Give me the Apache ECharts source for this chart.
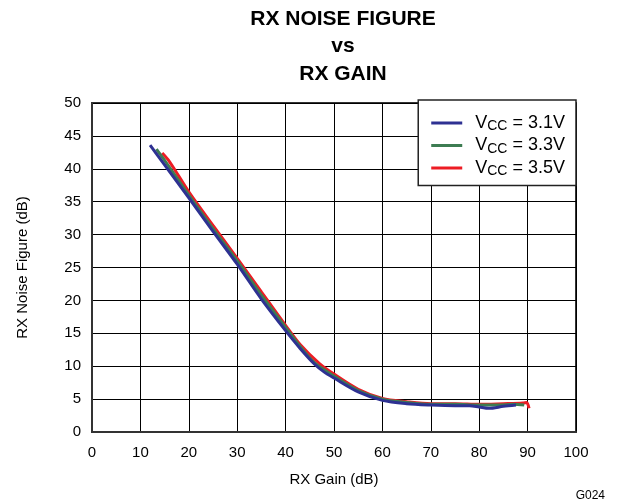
<!DOCTYPE html>
<html>
<head>
<meta charset="utf-8">
<script src="https://cdn.jsdelivr.net/npm/echarts@6/dist/echarts.min.js"></script>
<style>
html, body { margin: 0; padding: 0; background: #fff; }
#chart { width: 617px; height: 504px; }
</style>
</head>
<body>
<div id="chart"></div>
<script>
// values
var xTicks = [0, 10, 20, 30, 40, 50, 60, 70, 80, 90, 100];
var yTicks = [0, 5, 10, 15, 20, 25, 30, 35, 40, 45, 50];

var gain31 = [12, 15, 20, 25, 30, 35, 40, 43, 46, 48, 50, 55, 60, 65, 70, 75, 78, 80, 82, 85, 87.6];
var nf31   = [43.6, 40.6, 35.6, 30.5, 25.5, 20.2, 15.4, 12.7, 10.3, 9.1, 8.2, 6.1, 4.8, 4.3, 4.1, 4.0, 4.0, 3.8, 3.6, 3.9, 4.1];

var gain33 = [13.3, 15, 20, 25, 30, 35, 40, 43, 46, 50, 55, 60, 65, 70, 75, 80, 84, 87, 89.3];
var nf33   = [43.0, 41.3, 36.0, 30.9, 26.0, 20.8, 15.9, 13.0, 10.5, 8.5, 6.3, 5.0, 4.5, 4.2, 4.2, 4.1, 4.1, 4.2, 4.1];

var gain35 = [14.5, 16, 20, 25, 30, 35, 40, 43, 47, 50, 55, 60, 65, 70, 75, 80, 85, 89, 89.8, 90.3];
var nf35   = [42.4, 41.1, 36.5, 31.4, 26.4, 21.3, 16.2, 13.3, 10.4, 8.8, 6.5, 5.1, 4.6, 4.3, 4.3, 4.2, 4.3, 4.4, 4.5, 3.6];

var names = ['VCC = 3.1V', 'VCC = 3.3V', 'VCC = 3.5V'];
var colors = ['#2e3192', '#3d7c52', '#ed1c24'];

function pairs(xs, ys) {
	return xs.map(function (x, i) { return [x, ys[i]]; });
}

var font = 'Liberation Sans, Arial, Helvetica, sans-serif';
var chart = echarts.init(document.getElementById('chart'));

function lineSeries(idx, data, z) {
	return {
		name: names[idx],
		type: 'line',
		data: data,
		smooth: 0.3,
		showSymbol: false,
		z: z,
		lineStyle: { color: colors[idx], width: 3 },
		itemStyle: { color: colors[idx] }
	};
}

chart.setOption({
	animation: false,
	backgroundColor: '#fff',
	title: {
		text: 'RX NOISE FIGURE\nvs\nRX GAIN',
		left: 338,
		top: 0,
		textAlign: 'center',
		textStyle: { fontFamily: font, fontSize: 21, fontWeight: 'bold', color: '#000', lineHeight: 27.5 }
	},
	legend: {
		data: names,
		orient: 'vertical',
		right: 41,
		top: 100,
		backgroundColor: '#fff',
		borderColor: '#222',
		borderWidth: 1.5,
		padding: [14, 11, 7, 13],
		itemGap: 3,
		itemWidth: 31,
		itemHeight: 3,
		icon: 'rect',
		formatter: function (name) {
			return '{v|V}{s|CC}{v|' + name.substring(3) + '}';
		},
		textStyle: {
			fontFamily: font,
			color: '#000',
			padding: [0, 0, 0, 8],
			rich: {
				v: { fontFamily: font, fontSize: 18, color: '#000', lineHeight: 19 },
				s: { fontFamily: font, fontSize: 14, color: '#000', padding: [7, 0, 0, 0] }
			}
		}
	},
	grid: {
		left: 92,
		right: 41,
		top: 103,
		bottom: 72,
		show: true,
		borderColor: '#333',
		borderWidth: 2
	},
	xAxis: {
		type: 'value',
		min: xTicks[0],
		max: xTicks[xTicks.length - 1],
		interval: 10,
		name: 'RX Gain (dB)',
		nameLocation: 'middle',
		nameGap: 40,
		nameTextStyle: { fontFamily: font, fontSize: 15, color: '#000' },
		axisLine: { show: true, lineStyle: { color: '#333', width: 2 } },
		axisTick: { show: false },
		axisLabel: { fontFamily: font, fontSize: 15, color: '#000', margin: 13 },
		splitLine: { show: true, lineStyle: { color: '#000', width: 1 } }
	},
	yAxis: {
		type: 'value',
		min: yTicks[0],
		max: yTicks[yTicks.length - 1],
		interval: 5,
		name: 'RX Noise Figure (dB)',
		nameLocation: 'middle',
		nameGap: 62,
		nameTextStyle: { fontFamily: font, fontSize: 15, color: '#000' },
		axisLine: { show: true, lineStyle: { color: '#333', width: 2 } },
		axisTick: { show: false },
		axisLabel: { fontFamily: font, fontSize: 15, color: '#000', margin: 11 },
		splitLine: { show: true, lineStyle: { color: '#000', width: 1 } }
	},
	graphic: [{
		type: 'text',
		right: 12,
		bottom: 2,
		style: { text: 'G024', fontFamily: font, fontSize: 12, fill: '#000' }
	}],
	series: [
		lineSeries(2, pairs(gain35, nf35), 2),
		lineSeries(1, pairs(gain33, nf33), 3),
		lineSeries(0, pairs(gain31, nf31), 4)
	]
});
</script>
</body>
</html>
